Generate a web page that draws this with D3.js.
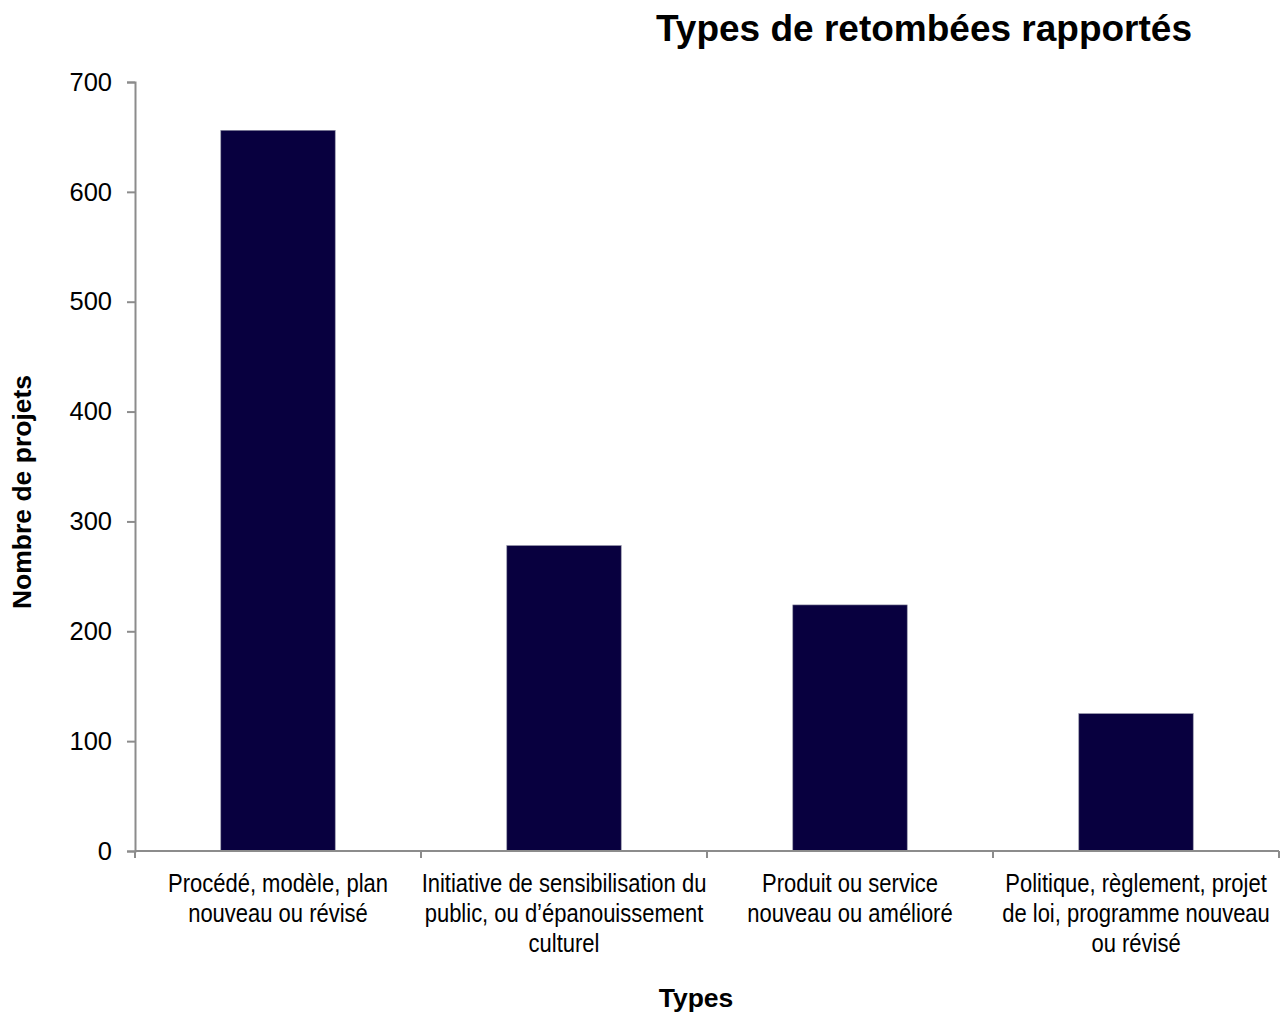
<!DOCTYPE html>
<html>
<head>
<meta charset="utf-8">
<title>Types de retombées rapportés</title>
<script src="https://cdn.jsdelivr.net/npm/d3@7"></script>
<style>
  body { margin: 0; background: #fff; }
  text { font-family: "Liberation Sans", Arial, sans-serif; fill: #000; }
</style>
</head>
<body>
<script>
// data
var categories = [
  ["Procédé, modèle, plan", "nouveau ou révisé"],
  ["Initiative de sensibilisation du", "public, ou d\u2019épanouissement", "culturel"],
  ["Produit ou service", "nouveau ou amélioré"],
  ["Politique, règlement, projet", "de loi, programme nouveau", "ou révisé"]
];
var values = [656, 278, 224, 125];
var yTicks = [0, 100, 200, 300, 400, 500, 600, 700];

var W = 1283, H = 1014;
var mLeft = 135, mRight = 1279, mTop = 82, mBottom = 851;

var svg = d3.select("body").append("svg")
    .attr("width", W)
    .attr("height", H);

var x = d3.scaleBand()
    .domain(d3.range(values.length))
    .range([mLeft, mRight])
    .padding(0);

var y = d3.scaleLinear()
    .domain([0, 700])
    .range([mBottom, mTop]);

// bars, 40% of the band
var bw = x.bandwidth() * 0.4;
svg.selectAll(".bar")
    .data(values)
    .enter()
    .append("rect")
    .attr("class", "bar")
    .attr("x", function(d, i) { return x(i) + (x.bandwidth() - bw) / 2; })
    .attr("y", function(d) { return y(d); })
    .attr("width", bw)
    .attr("height", function(d) { return mBottom - y(d); })
    .attr("fill", "#08003f")
    .attr("stroke", "#8a8aa0")
    .attr("stroke-width", 0.6);

// y axis
var yAxis = d3.axisLeft(y)
    .tickValues(yTicks)
    .tickSize(8)
    .tickPadding(15);
var gy = svg.append("g")
    .attr("transform", "translate(" + mLeft + ",0)")
    .call(yAxis);
gy.select(".domain").attr("stroke", "#8c8c8c").attr("stroke-width", 2);
gy.selectAll(".tick line").attr("stroke", "#8c8c8c").attr("stroke-width", 2);
gy.selectAll(".tick text")
    .attr("font-size", 25.5)
    .attr("font-family", "Liberation Sans, Arial, sans-serif")
    .attr("fill", "#000");

// x axis line with tick marks at band edges
var edges = d3.range(values.length + 1).map(function(i) {
  return i < values.length ? x(i) : mRight;
});
svg.append("line")
    .attr("x1", mLeft).attr("x2", mRight)
    .attr("y1", mBottom).attr("y2", mBottom)
    .attr("stroke", "#8c8c8c").attr("stroke-width", 2);
svg.selectAll(".xtick")
    .data(edges)
    .enter()
    .append("line")
    .attr("x1", function(d) { return d; })
    .attr("x2", function(d) { return d; })
    .attr("y1", mBottom)
    .attr("y2", mBottom + 7)
    .attr("stroke", "#8c8c8c").attr("stroke-width", 2);

// category labels (condensed look: squeeze horizontally)
var lab = svg.selectAll(".cat")
    .data(categories)
    .enter()
    .append("text")
    .attr("class", "cat")
    .attr("text-anchor", "middle")
    .attr("font-size", 25)
    .attr("fill", "#111")
    .attr("transform", function(d, i) {
      return "translate(" + (x(i) + x.bandwidth() / 2) + ",0) scale(0.88,1)";
    });
lab.each(function(lines) {
  var t = d3.select(this);
  lines.forEach(function(s, k) {
    t.append("tspan")
      .attr("x", 0)
      .attr("y", 892 + k * 30)
      .text(s);
  });
});

// titles
svg.append("text")
    .attr("x", 924)
    .attr("y", 41)
    .attr("text-anchor", "middle")
    .attr("font-size", 37)
    .attr("font-weight", "bold")
    .text("Types de retombées rapportés");

svg.append("text")
    .attr("transform", "translate(31,492) rotate(-90)")
    .attr("text-anchor", "middle")
    .attr("font-size", 26.5)
    .attr("font-weight", "bold")
    .text("Nombre de projets");

svg.append("text")
    .attr("x", 696)
    .attr("y", 1007)
    .attr("text-anchor", "middle")
    .attr("font-size", 26.5)
    .attr("font-weight", "bold")
    .text("Types");
</script>
</body>
</html>
